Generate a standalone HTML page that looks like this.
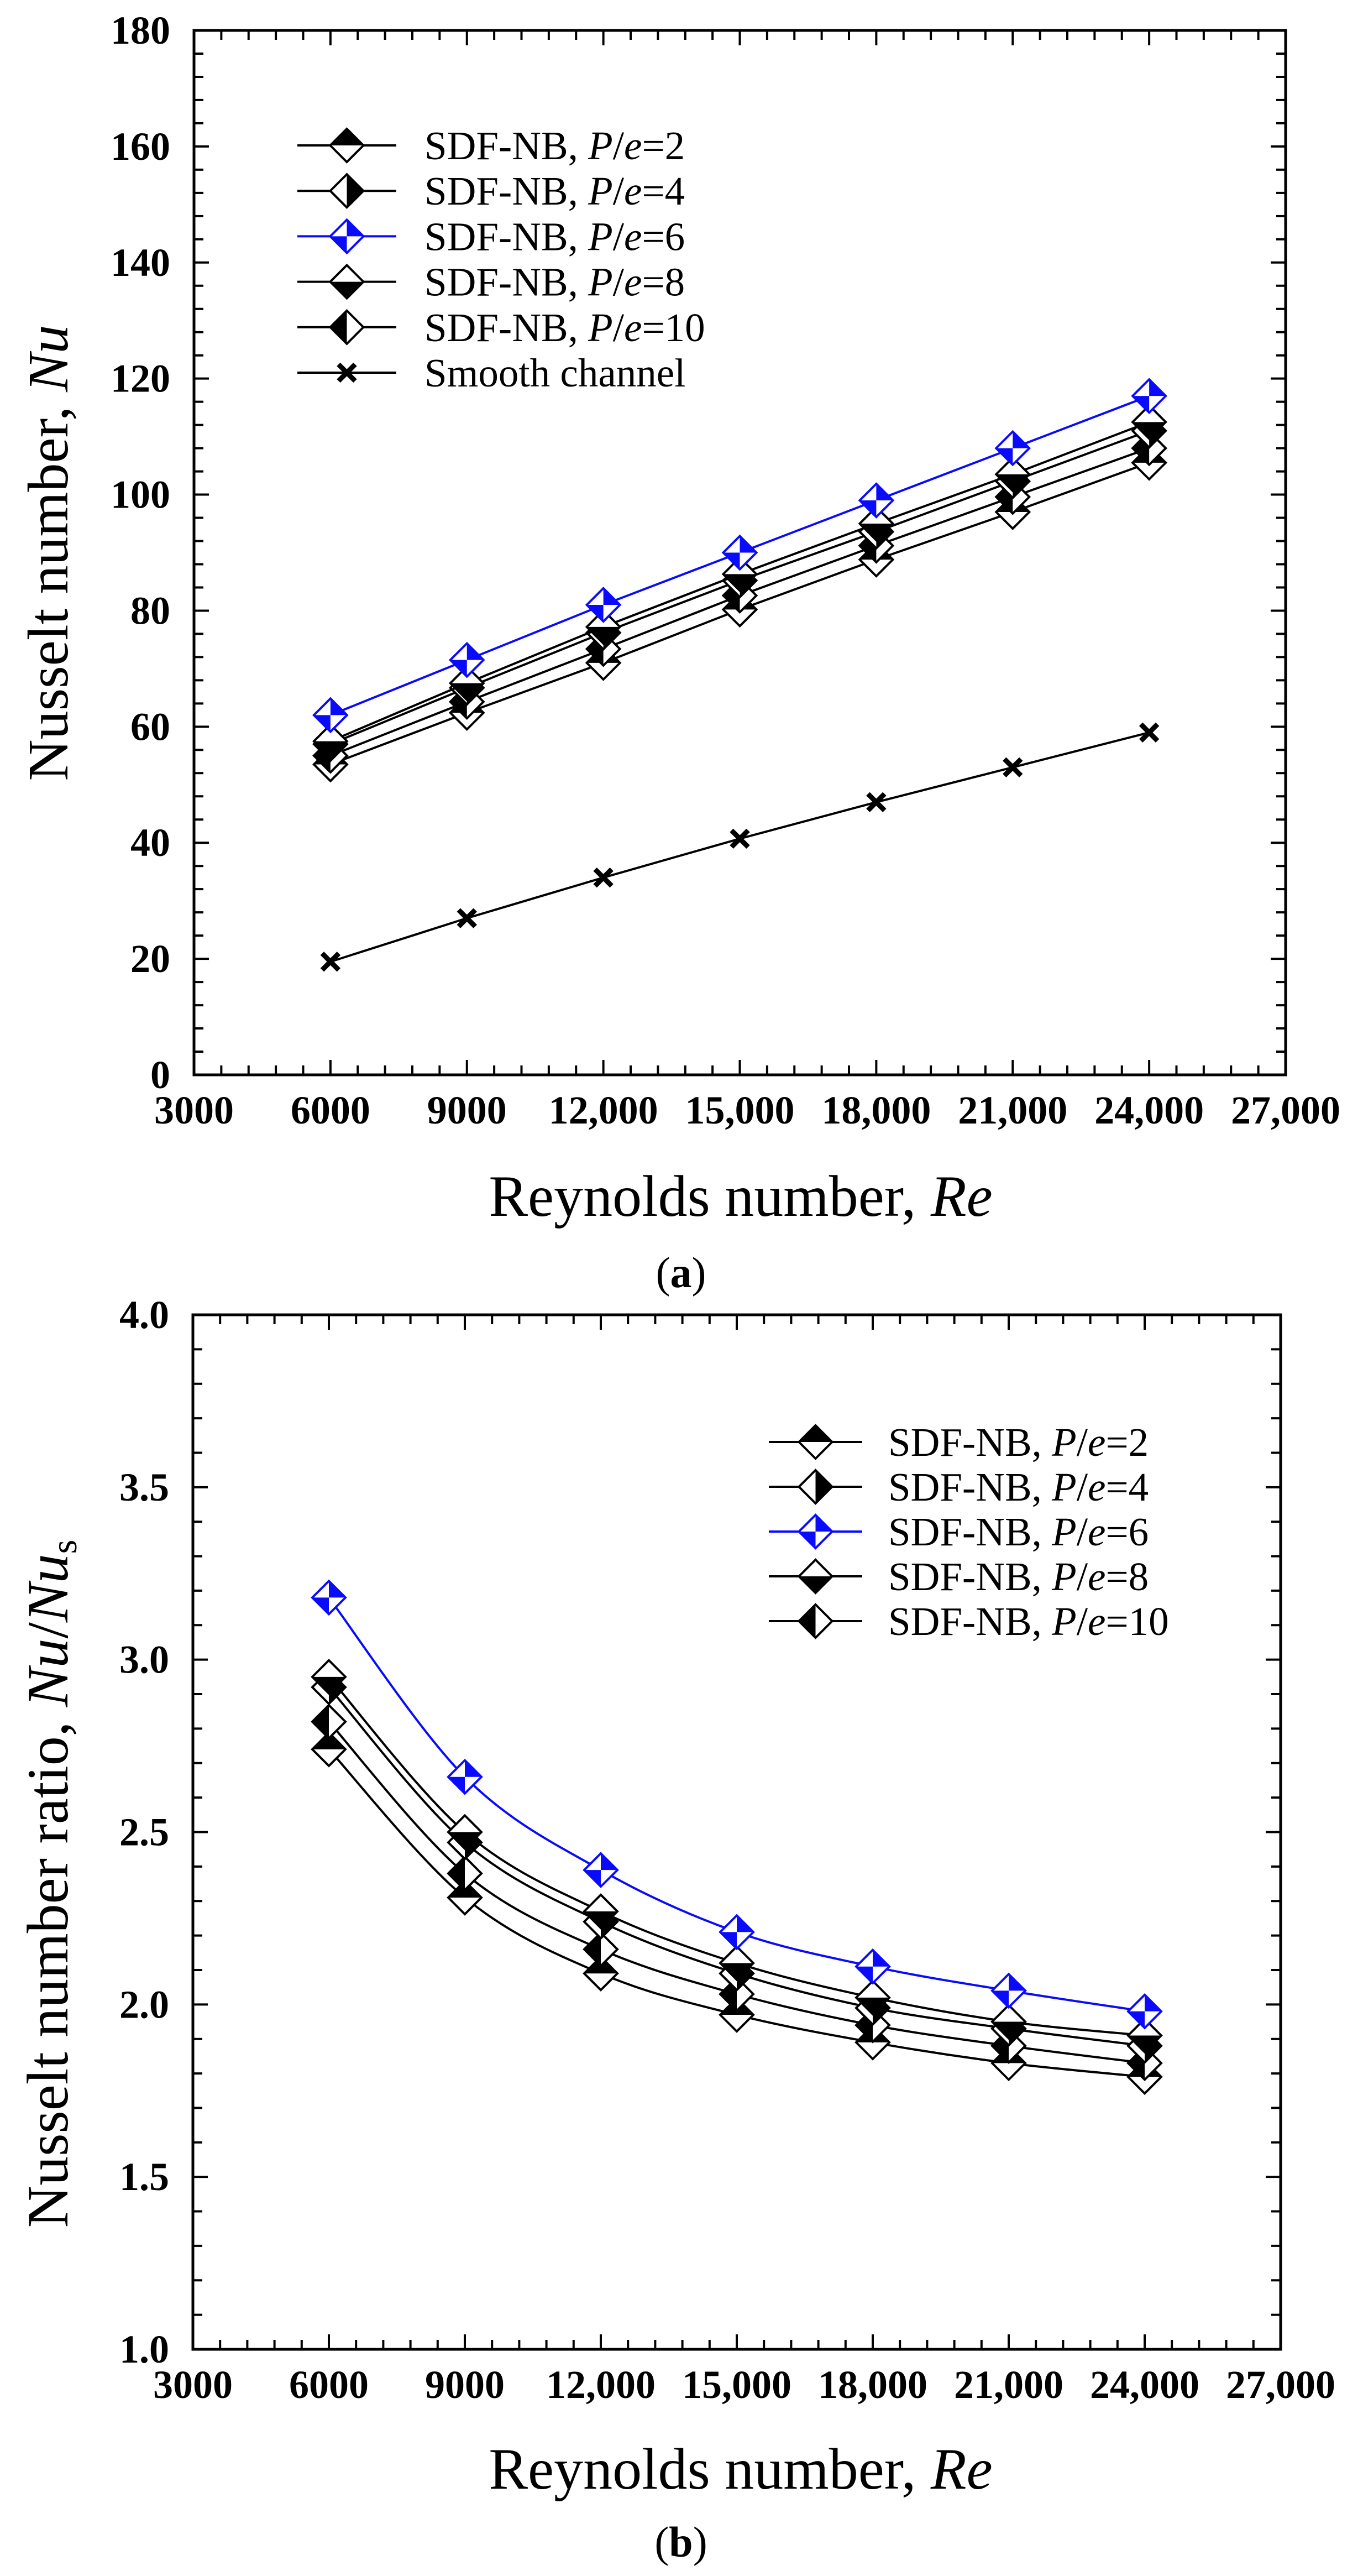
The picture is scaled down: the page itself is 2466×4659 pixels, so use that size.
<!DOCTYPE html>
<html><head><meta charset="utf-8"><title>Nusselt number charts</title>
<style>html,body{margin:0;padding:0;background:#fff}svg{display:block}</style></head>
<body>
<svg id="fig" xmlns="http://www.w3.org/2000/svg" width="2466" height="4659" viewBox="0 0 2466 4659" font-family="'Liberation Serif', serif">
<rect x="0" y="0" width="2466" height="4659" fill="#fff"/>
</svg>
<script>
// ---- shared x data ----
const reynolds = [6000, 9000, 12000, 15000, 18000, 21000, 24000];
const xTickValues = [3000, 6000, 9000, 12000, 15000, 18000, 21000, 24000, 27000];
const xTickLabels = ['3000', '6000', '9000', '12,000', '15,000', '18,000', '21,000', '24,000', '27,000'];

// ---- chart (a) Nusselt number ----
const nuPe2 = [53.5, 62.4, 71.0, 80.2, 88.8, 97.0, 105.5];
const nuPe4 = [57.0, 66.7, 76.2, 85.2, 93.6, 102.3, 111.0];
const nuPe6 = [62.0, 71.5, 81.0, 90.0, 99.0, 108.0, 117.0];
const nuPe8 = [57.5, 67.5, 77.2, 86.3, 95.0, 103.5, 112.5];
const nuPe10 = [55.0, 64.3, 73.4, 82.6, 91.2, 99.6, 108.0];
const nuSmooth = [19.5, 27.0, 34.0, 40.7, 47.0, 53.0, 59.0];
const aYTickValues = [0, 20, 40, 60, 80, 100, 120, 140, 160, 180];
const aYTickLabels = ['0', '20', '40', '60', '80', '100', '120', '140', '160', '180'];

// ---- chart (b) Nusselt number ratio ----
const ratioPe2 = [2.74, 2.31, 2.09, 1.97, 1.89, 1.83, 1.79];
const ratioPe4 = [2.92, 2.47, 2.24, 2.09, 1.99, 1.93, 1.88];
const ratioPe6 = [3.18, 2.66, 2.39, 2.21, 2.11, 2.04, 1.98];
const ratioPe8 = [2.95, 2.50, 2.27, 2.12, 2.02, 1.95, 1.91];
const ratioPe10 = [2.82, 2.38, 2.16, 2.03, 1.94, 1.88, 1.83];
const bYTickValues = [1.0, 1.5, 2.0, 2.5, 3.0, 3.5, 4.0];
const bYTickLabels = ['1.0', '1.5', '2.0', '2.5', '3.0', '3.5', '4.0'];

const NS = 'http://www.w3.org/2000/svg';
const svg = document.getElementById('fig');
function mk(tag, attrs, parent) {
  const e = document.createElementNS(NS, tag);
  for (const k in attrs) e.setAttribute(k, attrs[k]);
  (parent || svg).appendChild(e);
  return e;
}

function drawChart(cfg) {
  const g = mk('g', {});
  
  
  const L = cfg.left, R = cfg.right, T = cfg.top, B = cfg.bottom;
  const xs = v => L + (v - cfg.xMin) / (cfg.xMax - cfg.xMin) * (R - L);
  const ys = v => B - (v - cfg.yMin) / (cfg.yMax - cfg.yMin) * (B - T);

  const tg = mk('g', {stroke: '#000', 'stroke-width': 4}, g);
  
  
  const xMinorStep = (cfg.xMax - cfg.xMin) / 40;
  for (let i = 0; i <= 40; i++) {
    const x = xs(cfg.xMin + i * xMinorStep);
    const len = i % 5 === 0 ? 27 : 17;
    mk('line', {x1: x, y1: B, x2: x, y2: B - len}, tg);
    mk('line', {x1: x, y1: T, x2: x, y2: T + len}, tg);
  }
  const yMinorStep = cfg.yMinor;
  const nY = Math.round((cfg.yMax - cfg.yMin) / yMinorStep);
  const perMajor = Math.round(cfg.yMajor / yMinorStep);
  for (let i = 0; i <= nY; i++) {
    const y = ys(cfg.yMin + i * yMinorStep);
    const len = i % perMajor === 0 ? 27 : 17;
    mk('line', {x1: L, y1: y, x2: L + len, y2: y}, tg);
    mk('line', {x1: R, y1: y, x2: R - len, y2: y}, tg);
  }
  const fr = mk('rect', {x: L, y: T, width: R - L, height: B - T, fill: 'none', stroke: '#000', 'stroke-width': 5}, g);
  
  

  cfg.xTickValues.forEach((v, i) => {
    const t = mk('text', {x: xs(v), y: B + 88, 'text-anchor': 'middle', 'font-size': 72, 'font-weight': 'bold'}, g);
    t.textContent = cfg.xTickLabels[i];
    
    
  });
  cfg.yTickValues.forEach((v, i) => {
    const t = mk('text', {x: L - 43, y: ys(v) + 24, 'text-anchor': 'end', 'font-size': 72, 'font-weight': 'bold'}, g);
    t.textContent = cfg.yTickLabels[i];
    
    
  });

  cfg.series.forEach(s => {
    const sg = mk('g', {}, g);
    
    
    const pts = reynolds.map((r, i) => [xs(r), ys(s.values[i])]);
    let d;
    if (cfg.smooth) {
      d = 'M' + pts[0][0] + ',' + pts[0][1];
      for (let i = 0; i < pts.length - 1; i++) {
        const p0 = pts[Math.max(0, i - 1)], p1 = pts[i], p2 = pts[i + 1], p3 = pts[Math.min(pts.length - 1, i + 2)];
        const c1x = p1[0] + (p2[0] - p0[0]) / 6, c1y = p1[1] + (p2[1] - p0[1]) / 6;
        const c2x = p2[0] - (p3[0] - p1[0]) / 6, c2y = p2[1] - (p3[1] - p1[1]) / 6;
        d += ' C' + c1x + ',' + c1y + ' ' + c2x + ',' + c2y + ' ' + p2[0] + ',' + p2[1];
      }
    } else {
      d = 'M' + pts.map(p => p[0] + ',' + p[1]).join(' L');
    }
    const ln = mk('path', {d: d, fill: 'none', stroke: s.color, 'stroke-width': 4}, sg);
    
    
    s.pts = pts; s.group = sg;
  });
  cfg.series.forEach(s => {
    s.pts.forEach(p => {
      const m = drawMarker(s.group, p[0], p[1], s.marker, s.color);
      
      
    });
  });

  const lg = mk('g', {}, g);
  
  
  cfg.series.slice().sort((a, b) => a.legendIndex - b.legendIndex).forEach((s, i) => {
    const eg = mk('g', {}, lg);
    
    
    const y = cfg.legend.y0 + i * cfg.legend.dy;
    mk('line', {x1: cfg.legend.x1, y1: y, x2: cfg.legend.x2, y2: y, stroke: s.color, 'stroke-width': 4}, eg);
    drawMarker(eg, (cfg.legend.x1 + cfg.legend.x2) / 2, y, s.marker, s.color);
    const t = mk('text', {x: cfg.legend.tx, y: y + 25, 'font-size': 73}, eg);
    if (s.pe) {
      t.appendChild(document.createTextNode('SDF-NB, '));
      const i1 = mk('tspan', {'font-style': 'italic'}, t); i1.textContent = 'P';
      t.appendChild(document.createTextNode('/'));
      const i2 = mk('tspan', {'font-style': 'italic'}, t); i2.textContent = 'e';
      t.appendChild(document.createTextNode('=' + s.pe));
    } else {
      t.textContent = s.label;
    }
  });
  return g;
}

function drawMarker(parent, cx, cy, type, color) {
  const g = mk('g', {}, parent);
  const r = 30;
  if (type === 'x') {
    const s = 15;
    mk('path', {d: `M${cx - s},${cy - s} L${cx + s},${cy + s} M${cx - s},${cy + s} L${cx + s},${cy - s}`, stroke: '#000', 'stroke-width': 9, fill: 'none'}, g);
    return g;
  }
  mk('polygon', {points: `${cx},${cy - r} ${cx + r},${cy} ${cx},${cy + r} ${cx - r},${cy}`, fill: '#fff'}, g);
  let polys = [];
  if (type === 'top') polys = [`${cx - r},${cy} ${cx},${cy - r} ${cx + r},${cy}`];
  if (type === 'bottom') polys = [`${cx - r},${cy} ${cx},${cy + r} ${cx + r},${cy}`];
  if (type === 'right') polys = [`${cx},${cy - r} ${cx + r},${cy} ${cx},${cy + r}`];
  if (type === 'left') polys = [`${cx},${cy - r} ${cx - r},${cy} ${cx},${cy + r}`];
  if (type === 'diag') polys = [`${cx},${cy} ${cx},${cy - r} ${cx + r},${cy}`, `${cx},${cy} ${cx},${cy + r} ${cx - r},${cy}`];
  polys.forEach(p => mk('polygon', {points: p, fill: color}, g));
  mk('polygon', {points: `${cx},${cy - r} ${cx + r},${cy} ${cx},${cy + r} ${cx - r},${cy}`, fill: 'none', stroke: color, 'stroke-width': 4, 'stroke-linejoin': 'miter'}, g);
  return g;
}

const BLUE = '#0a0aff';
drawChart({
  name: 'chart-a-nusselt', left: 351, right: 2326, top: 55, bottom: 1944,
  xMin: 3000, xMax: 27000, yMin: 0, yMax: 180, yMajor: 20, yMinor: 4, smooth: false,
  xTickValues, xTickLabels, yTickValues: aYTickValues, yTickLabels: aYTickLabels,
  legend: {x1: 538, x2: 717, tx: 768, y0: 263, dy: 82.2},
  series: [
    {name: 'series-smooth-channel', values: nuSmooth, marker: 'x', color: '#000', label: 'Smooth channel', legendIndex: 5},
    {name: 'series-pe2', values: nuPe2, marker: 'top', color: '#000', pe: '2', legendIndex: 0},
    {name: 'series-pe10', values: nuPe10, marker: 'left', color: '#000', pe: '10', legendIndex: 4},
    {name: 'series-pe4', values: nuPe4, marker: 'right', color: '#000', pe: '4', legendIndex: 1},
    {name: 'series-pe8', values: nuPe8, marker: 'bottom', color: '#000', pe: '8', legendIndex: 3},
    {name: 'series-pe6', values: nuPe6, marker: 'diag', color: BLUE, pe: '6', legendIndex: 2}
  ]
});
drawChart({
  name: 'chart-b-ratio', left: 349, right: 2317, top: 2378, bottom: 4249,
  xMin: 3000, xMax: 27000, yMin: 1, yMax: 4, yMajor: 0.5, yMinor: 0.1, smooth: true,
  xTickValues, xTickLabels, yTickValues: bYTickValues, yTickLabels: bYTickLabels,
  legend: {x1: 1391, x2: 1560, tx: 1607, y0: 2608, dy: 81},
  series: [
    {name: 'series-pe2', values: ratioPe2, marker: 'top', color: '#000', pe: '2', legendIndex: 0},
    {name: 'series-pe10', values: ratioPe10, marker: 'left', color: '#000', pe: '10', legendIndex: 4},
    {name: 'series-pe4', values: ratioPe4, marker: 'right', color: '#000', pe: '4', legendIndex: 1},
    {name: 'series-pe8', values: ratioPe8, marker: 'bottom', color: '#000', pe: '8', legendIndex: 3},
    {name: 'series-pe6', values: ratioPe6, marker: 'diag', color: BLUE, pe: '6', legendIndex: 2}
  ]
});
</script>
<script>
(function(){
  const svg = document.getElementById('fig');
  svg.insertAdjacentHTML('beforeend', `
  <text x="1340" y="2199" text-anchor="middle" font-size="106">Reynolds number, <tspan font-style="italic">Re</tspan></text>
  <text transform="translate(122,1000) rotate(-90)" text-anchor="middle" font-size="104">Nusselt number, <tspan font-style="italic">Nu</tspan></text>
  <text x="1232" y="2328" text-anchor="middle" font-size="78">(<tspan font-weight="bold">a</tspan>)</text>
  <text x="1340" y="4501" text-anchor="middle" font-size="106">Reynolds number, <tspan font-style="italic">Re</tspan></text>
  <text transform="translate(122,3407) rotate(-90)" text-anchor="middle" font-size="106">Nusselt number ratio, <tspan font-style="italic">Nu</tspan>/<tspan font-style="italic">Nu</tspan><tspan font-size="66" dy="16">s</tspan></text>
  <text x="1232" y="4624" text-anchor="middle" font-size="78">(<tspan font-weight="bold">b</tspan>)</text>
  `);
})();
</script>
</body></html>
